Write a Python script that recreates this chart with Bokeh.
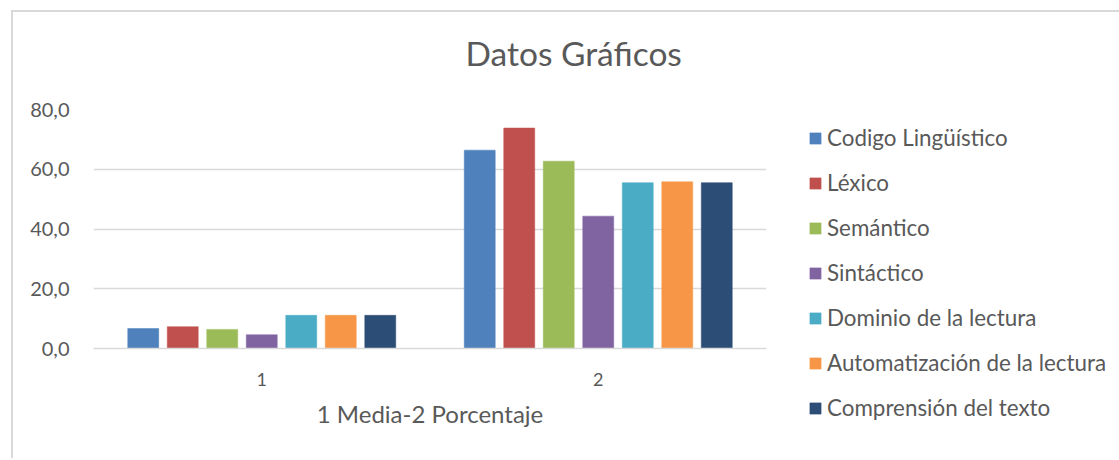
from bokeh.plotting import figure
from bokeh.models import (Range1d, FactorRange, ColumnDataSource, Legend, LegendItem,
                          CustomJSTickFormatter, Title)
from bokeh.transform import dodge
from bokeh.embed import file_html
from bokeh.resources import INLINE

categories = ["1", "2"]
series = ["Codigo Lingüístico", "Léxico", "Semántico", "Sintáctico",
          "Dominio de la lectura", "Automatización de la lectura", "Comprensión del texto"]
codigo = [6.7, 66.4]
lexico = [7.3, 73.8]
semantico = [6.4, 62.7]
sintactico = [4.6, 44.3]
dominio = [11.1, 55.5]
automatizacion = [11.1, 55.8]
comprension = [11.1, 55.5]
values = [codigo, lexico, semantico, sintactico, dominio, automatizacion, comprension]
colors = ["#4F81BD", "#C0504D", "#9BBB59", "#8064A2", "#4BACC6", "#F79646", "#2C4D75"]

FONT = "Lato"
GRAY = "#595959"
BORDER = "2px solid #d9d9d9"

# main chart
p = figure(x_range=FactorRange(*categories), y_range=Range1d(0, 80),
           width=763, height=448, output_backend="svg", toolbar_location=None,
           min_border_left=80, min_border_right=10, min_border_top=97, min_border_bottom=112)
p.styles = {"border-left": BORDER, "border-top": BORDER,
            "margin-left": "11px", "margin-top": "10px"}

# legend panel (shares the ranges, shows the same series), placed to the right
pl = figure(x_range=p.x_range, y_range=p.y_range, width=347, height=448,
            output_backend="svg", toolbar_location=None,
            x_axis_type=None, y_axis_type=None,
            min_border_left=0, min_border_right=0, min_border_top=0, min_border_bottom=0)
pl.styles = {"position": "absolute", "left": "772px", "top": "10px", "border-top": BORDER}
pl.outline_line_color = None
pl.xgrid.grid_line_color = None
pl.ygrid.grid_line_color = None

pitch = 0.1174
width = 0.092
items = []
for i, (name, vals, col) in enumerate(zip(series, values, colors)):
    src = ColumnDataSource(dict(cat=categories, val=vals))
    xs = dodge("cat", (i - 3) * pitch, range=p.x_range)
    p.vbar(x=xs, top="val", width=width, source=src,
           fill_color=col, line_color=col, line_width=0.5)
    rl = pl.vbar(x=xs, top="val", width=width, source=src,
                 fill_color=col, line_color=col, line_width=0.5, visible=False)
    items.append(LegendItem(label=name, renderers=[rl]))

legend = Legend(items=items, location=(36, 39), orientation="vertical")
legend.label_text_font = FONT
legend.label_text_font_size = "22.4px"
legend.label_text_color = GRAY
legend.glyph_width = 14
legend.glyph_height = 14
legend.label_height = 27
legend.spacing = 18
legend.padding = 0
legend.margin = 0
legend.label_standoff = 5
legend.border_line_color = None
legend.background_fill_alpha = 0
legend.inactive_fill_alpha = 0
pl.add_layout(legend, "center")

# title: a thin spacer title next to the frame, the real title above it
p.title.text = ""
spacer_title = Title(text=" ", text_font_size="1px", standoff=29)
main_title = Title(text="Datos Gráficos", align="left", offset=372, standoff=10,
                   text_font=FONT, text_font_size="33.5px", text_font_style="normal",
                   text_color=GRAY)
p.add_layout(spacer_title, "above")
p.add_layout(main_title, "above")

p.outline_line_color = None
p.xgrid.grid_line_color = None
p.ygrid.grid_line_color = "#d9d9d9"
p.ygrid.grid_line_width = 1.5
p.yaxis.ticker = [0, 20, 40, 60, 80]
p.yaxis.formatter = CustomJSTickFormatter(code="return tick.toFixed(1).replace('.', ',');")
p.yaxis.axis_line_color = None
p.yaxis.major_tick_line_color = None
p.yaxis.minor_tick_line_color = None
p.yaxis.major_label_standoff = 18
p.yaxis.major_label_text_font = FONT
p.yaxis.major_label_text_font_size = "20px"
p.yaxis.major_label_text_color = GRAY

p.xaxis.axis_line_color = "#d9d9d9"
p.xaxis.axis_line_width = 1.5
p.xaxis.major_tick_line_color = None
p.xaxis.major_label_standoff = 18
p.xaxis.major_label_text_font = FONT
p.xaxis.major_label_text_font_size = "18px"
p.xaxis.major_label_text_color = GRAY
p.xaxis.axis_label = "1 Media-2 Porcentaje"
p.xaxis.axis_label_text_font = FONT
p.xaxis.axis_label_text_font_size = "24px"
p.xaxis.axis_label_text_font_style = "normal"
p.xaxis.axis_label_text_color = GRAY
p.xaxis.axis_label_standoff = 10

open("out.html", "w").write(file_html([p, pl], INLINE))
